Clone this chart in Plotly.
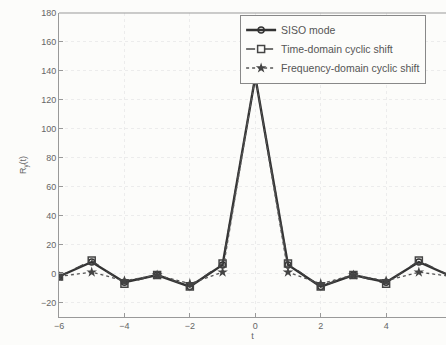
import plotly.graph_objects as go

t = [-6, -5, -4, -3, -2, -1, 0, 1, 2, 3, 4, 5, 6]
siso = [-2, 8, -6, -1, -9, 6, 136, 6, -9, -1, -6, 8, -2]
time_shift = [-2, 9, -7, -1, -9, 7, 136, 7, -9, -1, -7, 9, -2]
freq_shift = [-2, 1, -5, -1, -7, 1, 136, 1, -7, -1, -5, 1, -2]
names = ["SISO mode", "Time-domain cyclic shift", "Frequency-domain cyclic shift"]
y_ticks = [-20, 0, 20, 40, 60, 80, 100, 120, 140, 160, 180]
x_ticks = [-6, -4, -2, 0, 2, 4]

fig = go.Figure()
fig.add_trace(go.Scatter(x=t, y=siso, name=names[0], mode="lines+markers",
                         line=dict(color="#333333", width=2.4, dash="solid"),
                         marker=dict(symbol="circle-open", size=6, color="#333333", line=dict(width=1.5))))
fig.add_trace(go.Scatter(x=t, y=time_shift, name=names[1], mode="lines+markers",
                         line=dict(color="#444444", width=1.3, dash="dash"),
                         marker=dict(symbol="square-open", size=7, color="#444444", line=dict(width=1.5))))
fig.add_trace(go.Scatter(x=t, y=freq_shift, name=names[2], mode="lines+markers",
                         line=dict(color="#555555", width=1.3, dash="dot"),
                         marker=dict(symbol="star", size=8, color="#444444")))

fig.update_layout(
    width=446, height=345,
    margin=dict(l=59, r=0, t=13, b=28),
    paper_bgcolor="#fcfcfa", plot_bgcolor="#fcfcfa",
    font=dict(family="Liberation Sans, Arial", size=9, color="#666666"),
    showlegend=True,
    legend=dict(x=0.468, y=0.995, xanchor="left", yanchor="top",
                bgcolor="#fcfcfa", bordercolor="#888888", borderwidth=1,
                font=dict(size=10.5, color="#555555"), tracegroupgap=0,
                itemwidth=30),
    xaxis=dict(range=[-6, 5.83], tickvals=x_ticks, showgrid=True,
               gridcolor="#ececec", griddash="dot", zeroline=False,
               showline=True, linecolor="#999999", linewidth=1,
               ticks="inside", ticklen=4, tickcolor="#999999",
               title=dict(text="t", font=dict(size=9, color="#666666"), standoff=2)),
    yaxis=dict(range=[-30, 180], tickvals=y_ticks, showgrid=True,
               gridcolor="#ececec", griddash="dot", zeroline=False,
               showline=True, linecolor="#999999", linewidth=1,
               ticks="inside", ticklen=4, tickcolor="#999999",
               title=dict(text="R<sub>y</sub>(t)", font=dict(size=9, color="#666666"), standoff=12)),
)
fig.add_shape(type="line", xref="paper", yref="paper", x0=0, x1=1, y0=1, y1=1,
              line=dict(color="#999999", width=1))

fig.write_html("out.html", config={"displayModeBar": False},
               post_script="document.body.style.margin='0';document.body.style.overflow='hidden';")
